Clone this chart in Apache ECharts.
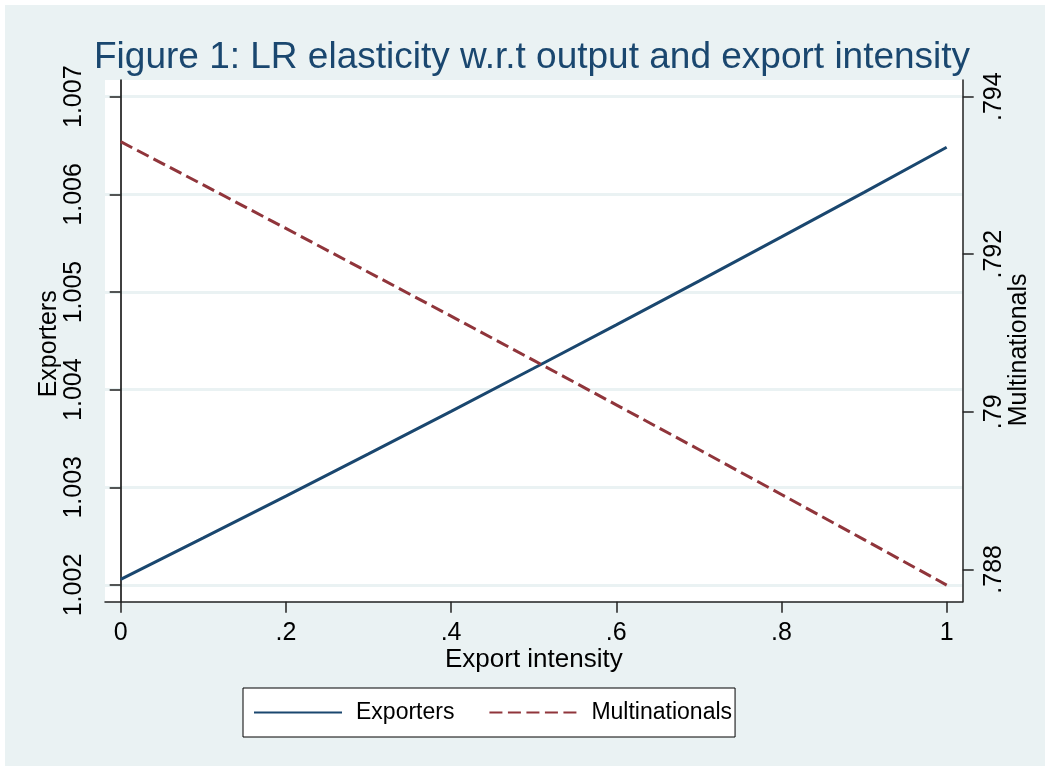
<!DOCTYPE html>
<html>
<head>
<meta charset="utf-8">
<script src="https://cdn.jsdelivr.net/npm/echarts@6/dist/echarts.min.js"></script>
<style>
  html, body { margin: 0; padding: 0; background: #fff; }
  #chart { width: 1050px; height: 771px; }
</style>
</head>
<body>
<div id="chart"></div>
<script>
// values
const intensity = [0, 0.1, 0.2, 0.3, 0.4, 0.5, 0.6, 0.7, 0.8, 0.9, 1];
const exporters = [1.002058, 1.002482, 1.002910, 1.003342, 1.003778, 1.004219,
                   1.004663, 1.005112, 1.005564, 1.006021, 1.006482];
const multinationals = [0.793429, 0.792880, 0.792328, 0.791772, 0.791214, 0.790653,
                        0.790088, 0.789521, 0.788950, 0.788377, 0.787800];

const xTicks = [0, 0.2, 0.4, 0.6, 0.8, 1];
const leftTicks = [1.002, 1.003, 1.004, 1.005, 1.006, 1.007];
const rightTicks = [0.788, 0.79, 0.792, 0.794];

const FONT = "'Liberation Sans', Arial, sans-serif";
const BLUE = '#1a476f';
const RED = '#90353b';
const PANEL = '#eaf2f3';

// stata style: .2 instead of 0.2
function stataFmt(v) {
  return String(+v.toFixed(3)).replace(/^0\./, '.').replace(/^-0\./, '-.');
}

function zip(xs, ys) {
  return xs.map((x, i) => [x, ys[i]]);
}

let chartDom = document.getElementById('chart');
let myChart = echarts.init(chartDom);
let option;

option = {
  backgroundColor: '#fff',
  animation: false,
  textStyle: { fontFamily: FONT },
  graphic: [{
    type: 'rect',
    z: -100,
    silent: true,
    shape: { x: 5, y: 5, width: 1040, height: 761 },
    style: { fill: PANEL }
  }],
  title: {
    text: 'Figure 1: LR elasticity w.r.t output and export intensity',
    left: 89,
    top: 34,
    textStyle: { fontFamily: FONT, fontSize: 37, fontWeight: 'normal', color: BLUE }
  },
  grid: {
    left: 105, right: 87.3, top: 80, bottom: 169.3,
    show: true, backgroundColor: '#fff', borderWidth: 0
  },
  legend: {
    left: 243,
    top: 688,
    orient: 'horizontal',
    data: ['Exporters', 'Multinationals'],
    itemWidth: 88,
    itemHeight: 14,
    itemGap: 34,
    padding: [13, 3, 13, 10],
    backgroundColor: '#fff',
    borderColor: '#000',
    borderWidth: 1,
    borderRadius: 0,
    itemStyle: { opacity: 0, borderWidth: 0 },
    textStyle: { fontFamily: FONT, fontSize: 23, color: '#000', padding: [0, 0, 0, 9] }
  },
  xAxis: {
    type: 'value',
    min: -0.019,
    max: 1.0194,
    name: 'Export intensity',
    nameLocation: 'middle',
    nameGap: 45,
    nameMoveOverlap: false,
    nameTextStyle: { fontFamily: FONT, fontSize: 26, color: '#000' },
    axisLine: { show: true, lineStyle: { color: '#222', width: 1.5 } },
    axisTick: { show: true, length: 11, customValues: xTicks, lineStyle: { color: '#222', width: 1.5 } },
    axisLabel: {
      customValues: xTicks, margin: 19, fontSize: 25, color: '#000', fontFamily: FONT,
      formatter: stataFmt
    },
    splitLine: { show: false }
  },
  yAxis: [{
    type: 'value',
    position: 'left',
    min: 1.001829,
    max: 1.007171,
    name: 'Exporters',
    nameLocation: 'middle',
    nameRotate: 90,
    nameGap: 43,
    nameMoveOverlap: false,
    nameTextStyle: { fontFamily: FONT, fontSize: 25, color: '#000', padding: [0, 6, 0, 0] },
    axisLine: { show: true, lineStyle: { color: '#000', width: 1.5 } },
    axisTick: { show: true, length: 11, customValues: leftTicks, lineStyle: { color: '#222', width: 1.5 } },
    axisLabel: {
      customValues: leftTicks, rotate: 90, margin: 18, fontSize: 25, color: '#000', fontFamily: FONT,
      formatter: v => v.toFixed(3)
    },
    splitLine: { show: true, customValues: leftTicks, lineStyle: { color: PANEL, width: 3 } }
  }, {
    type: 'value',
    position: 'right',
    min: 0.787589,
    max: 0.794212,
    name: 'Multinationals',
    nameLocation: 'middle',
    nameRotate: 90,
    nameGap: 44,
    nameMoveOverlap: false,
    nameTextStyle: { fontFamily: FONT, fontSize: 25, color: '#000', padding: [0, 18, 0, 0] },
    axisLine: { show: true, lineStyle: { color: '#222', width: 1.5 } },
    axisTick: { show: true, length: 11, customValues: rightTicks, lineStyle: { color: '#222', width: 1.5 } },
    axisLabel: {
      customValues: rightTicks, rotate: 90, margin: 19, fontSize: 25, color: '#000', fontFamily: FONT,
      formatter: stataFmt
    },
    splitLine: { show: false }
  }],
  series: [{
    name: 'Exporters',
    type: 'line',
    yAxisIndex: 0,
    data: zip(intensity, exporters),
    symbol: 'none',
    lineStyle: { color: BLUE, width: 3 },
    itemStyle: { color: BLUE }
  }, {
    name: 'Multinationals',
    type: 'line',
    yAxisIndex: 1,
    data: zip(intensity, multinationals),
    symbol: 'none',
    lineStyle: { color: RED, width: 3, type: [13, 5.5] },
    itemStyle: { color: RED }
  }]
};

option && myChart.setOption(option);
</script>
</body>
</html>
